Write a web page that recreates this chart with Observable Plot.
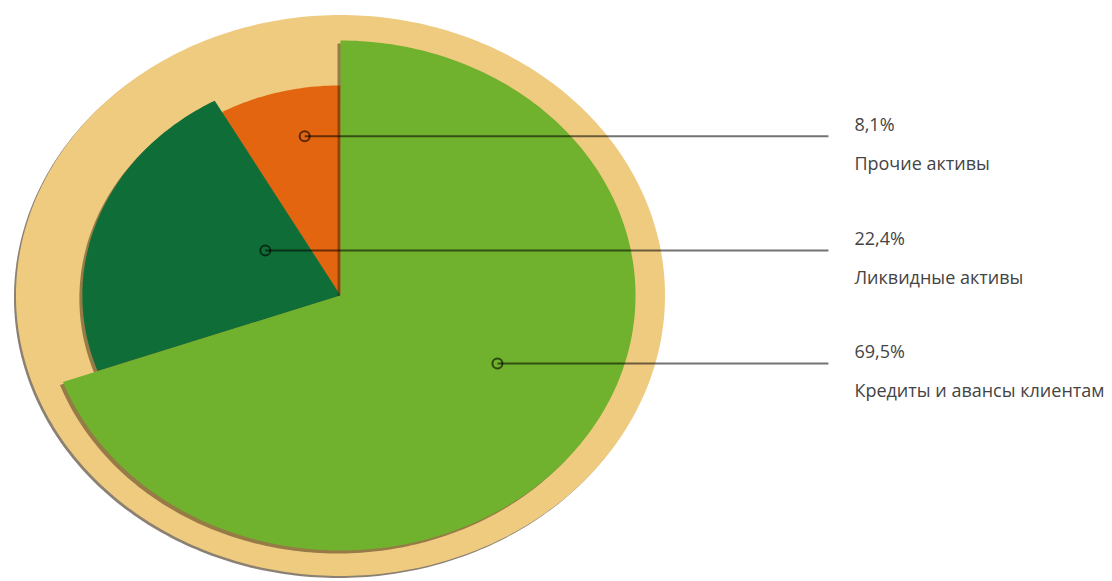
<!DOCTYPE html>
<html>
<head>
<meta charset="utf-8">
<script src="https://cdn.jsdelivr.net/npm/d3@7"></script>
<script src="https://cdn.jsdelivr.net/npm/@observablehq/plot@0.6"></script>
<style>
  html, body { margin: 0; padding: 0; background: #ffffff; }
  #chart svg { display: block; }
</style>
</head>
<body>
<div id="chart"></div>
<script>
// ---- Data ----
const categories = ["Кредиты и авансы клиентам", "Ликвидные активы", "Прочие активы"];
const values = [69.5, 22.4, 8.1];
const valueLabels = ["69,5%", "22,4%", "8,1%"];

// ---- Styling / layout constants ----
const colors = ["#70B12D", "#0F6D37", "#E3650F"];
const sliceRadius = [1, 0.875, 0.824];          // relative radius of each slice
const markerAngleDeg = [116.6, 304.7, 349];      // label anchor angle (clockwise from top)
const markerRadius = [0.595, 0.31, 0.636];       // label anchor radius (relative)
const backgroundRadius = 1.1;
const backgroundColor = "#EFCB80";
const lineEndX = 1.654, textX = 1.742;

// ---- Geometry derived from data ----
const pie = d3.pie().sort(null).startAngle(0).endAngle(2 * Math.PI)(values);
function arcPoints(a0, a1, r, withCenter) {
  const pts = [];
  if (withCenter) pts.push({u: 0, v: 0});
  const n = Math.max(2, Math.ceil((a1 - a0) / (Math.PI / 180)));
  for (let i = 0; i <= n; i++) {
    const a = a0 + (a1 - a0) * i / n;
    pts.push({u: r * Math.sin(a), v: r * Math.cos(a)});
  }
  return pts;
}
const bgPts = arcPoints(0, 2 * Math.PI, backgroundRadius, false);
const slices = pie.map((p, i) => ({
  name: categories[i],
  color: colors[i],
  pts: arcPoints(p.startAngle, p.endAngle, sliceRadius[i], true)
}));
const anchors = categories.map((c, i) => {
  const a = markerAngleDeg[i] * Math.PI / 180;
  return {name: c, value: valueLabels[i], u: markerRadius[i] * Math.sin(a), v: markerRadius[i] * Math.cos(a)};
});

const shadow = {dx: -3, dy: 3, fill: "#2a1a00", fillOpacity: 0.45, stroke: "none"};

const marks = [
  // background disc shadow + disc
  Plot.line(bgPts, {x: "u", y: "v", ...shadow, fillOpacity: 0.55, dx: -2, dy: 2}),
  Plot.line(bgPts, {x: "u", y: "v", fill: backgroundColor, stroke: "none"})
];
// draw order: orange, dark green, light green (on top)
[2, 1, 0].forEach(i => {
  const s = slices[i];
  marks.push(Plot.line(s.pts, {x: "u", y: "v", ...shadow}));
  marks.push(Plot.line(s.pts, {x: "u", y: "v", fill: s.color, stroke: "none"}));
});
marks.push(
  Plot.link(anchors, {x1: "u", y1: "v", x2: () => lineEndX, y2: "v", stroke: "#000", strokeOpacity: 0.55, strokeWidth: 2}),
  Plot.dot(anchors, {x: "u", y: "v", r: 5, stroke: "#000", strokeOpacity: 0.6, strokeWidth: 2, fill: "none"}),
  Plot.text(anchors, {x: () => textX, y: "v", text: "value", textAnchor: "start", dy: -11, fill: "#444444", fontSize: 18}),
  Plot.text(anchors, {x: () => textX, y: "v", text: "name", textAnchor: "start", dy: 28, fill: "#444444", fontSize: 18})
);

const chart = Plot.plot({
  width: 1112,
  height: 581,
  margin: 0,
  style: {fontFamily: "'Open Sans', sans-serif", background: "#ffffff"},
  x: {domain: [-1.1525, 2.6169], axis: null},
  y: {domain: [-1.1216, 1.1569], axis: null},
  marks
});
document.getElementById("chart").appendChild(chart);
</script>
</body>
</html>
